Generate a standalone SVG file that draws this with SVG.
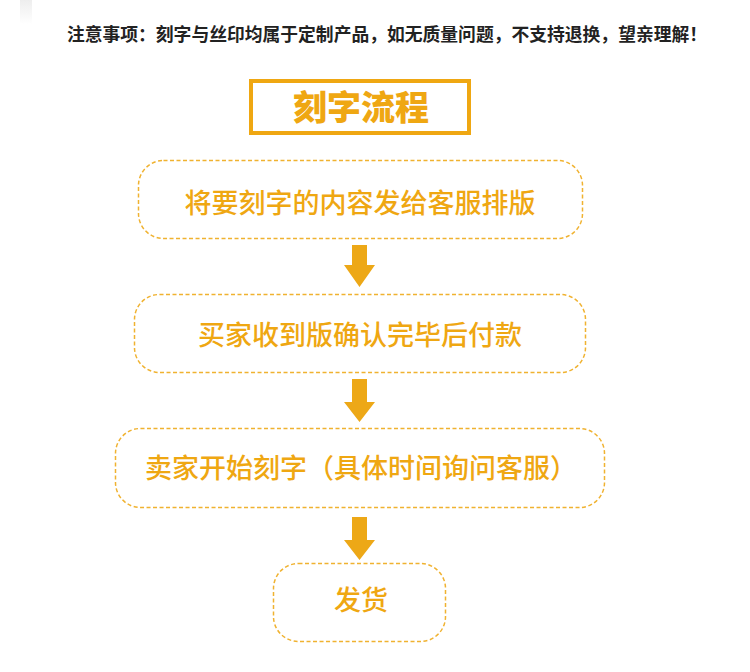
<svg xmlns="http://www.w3.org/2000/svg" width="750" height="672" viewBox="0 0 750 672">
<defs>
<linearGradient id="fade" x1="0" y1="0" x2="0" y2="1">
<stop offset="0" stop-color="#e6e6e6"/>
<stop offset="1" stop-color="#ffffff"/>
</linearGradient>
<style>
.note{font-family:"Liberation Sans","Noto Sans CJK SC",sans-serif;font-size:17.8px;font-weight:bold;fill:#222222}
.title{font-family:"Liberation Sans","Noto Sans CJK SC",sans-serif;font-size:34px;font-weight:900;fill:#EFA712}
.step{fill:#ffffff;stroke:#F0B230;stroke-width:1.5;stroke-dasharray:4 2.5}
.label{font-family:"Liberation Sans","Noto Sans CJK SC",sans-serif;font-size:27px;font-weight:500;fill:#EFA712;text-anchor:middle}
.arrow{fill:#EDA817}
</style>
</defs>
<rect width="750" height="672" fill="#ffffff"/>
<rect x="20" y="0" width="12" height="24" fill="url(#fade)" opacity="0.7"/>
<g id="notice">
<text class="note" x="387" y="41" text-anchor="middle">注意事项：刻字与丝印均属于定制产品，如无质量问题，不支持退换，望亲理解！</text>
</g>
<g id="title">
<rect x="251" y="81" width="218" height="52" fill="#ffffff" stroke="#EFA712" stroke-width="4"/>
<text class="title" x="361" y="120" text-anchor="middle">刻字流程</text>
</g>
<g id="step1">
<rect class="step" x="138.5" y="160.5" width="444" height="78" rx="25"/>
<text class="label" x="360" y="213">将要刻字的内容发给客服排版</text>
</g>
<g id="step2">
<rect class="step" x="134.5" y="294.5" width="451" height="78" rx="25"/>
<text class="label" x="360" y="345">买家收到版确认完毕后付款</text>
</g>
<g id="step3">
<rect class="step" x="115.5" y="428.5" width="489" height="79" rx="25"/>
<text class="label" x="361" y="478">卖家开始刻字（具体时间询问客服）</text>
</g>
<g id="step4">
<rect class="step" x="273.5" y="563.5" width="172" height="78" rx="25"/>
<text class="label" x="361" y="610">发货</text>
</g>
<g id="connectors">
<polygon class="arrow" points="352,245 367,245 367,265 375,265 359.5,287 344,265 352,265"/>
<polygon class="arrow" points="352,379 367,379 367,402 375,402 359.5,422 344,402 352,402"/>
<polygon class="arrow" points="352,517 367,517 367,540 375,540 359.5,560 344,540 352,540"/>
</g>
</svg>
